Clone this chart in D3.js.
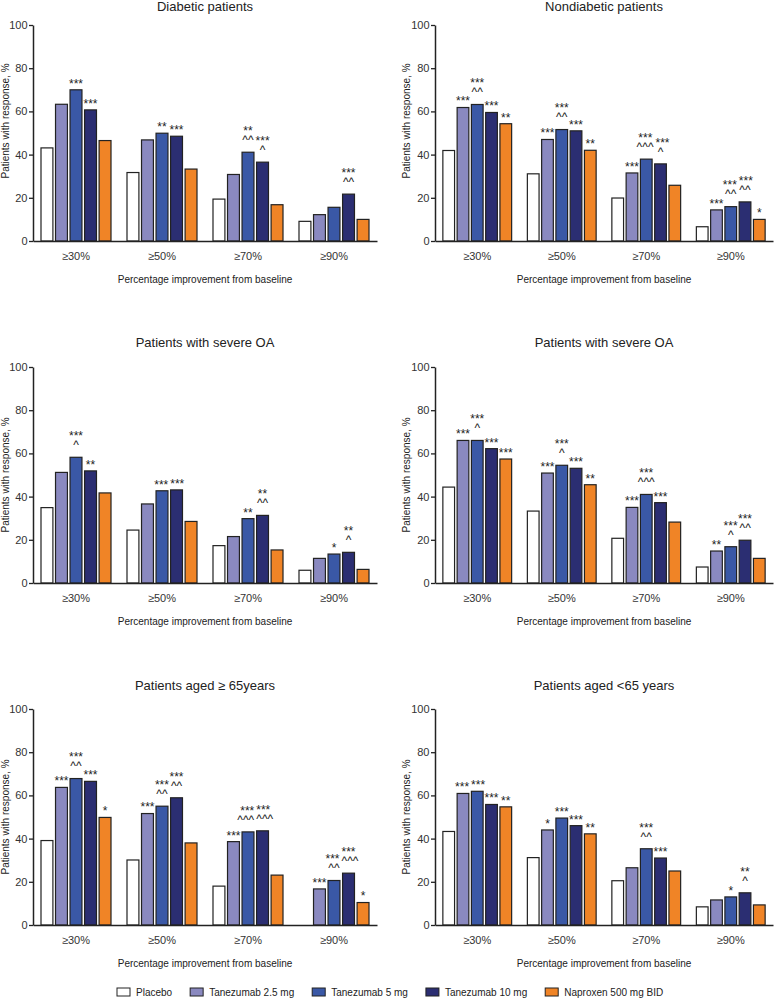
<!DOCTYPE html>
<html>
<head>
<meta charset="utf-8">
<script src="https://cdn.jsdelivr.net/npm/d3@7"></script>
<style>
  html, body { margin: 0; padding: 0; background: #fff; }
  svg { display: block; font-family: "Liberation Sans", Arial, sans-serif; }
</style>
</head>
<body>
<svg id="chart" width="781" height="999"></svg>
<script>
// ---------- DATA ----------
const categories = ["≥30%", "≥50%", "≥70%", "≥90%"];
const seriesNames = ["Placebo", "Tanezumab 2.5 mg", "Tanezumab 5 mg", "Tanezumab 10 mg", "Naproxen 500 mg BID"];
const yTicks = [0, 20, 40, 60, 80, 100];
const panelTitles = ["Diabetic patients", "Nondiabetic patients", "Patients with severe OA",
                     "Patients with severe OA", "Patients aged ≥ 65years", "Patients aged <65 years"];
const xAxisTitle = "Percentage improvement from baseline";
const yAxisTitle = "Patients with response, %";

// values per category: [Placebo, T2.5, T5, T10, Naproxen]
const diabeticValues = [
  [43.1, 63.3, 70.0, 60.7, 46.5],
  [31.7, 46.8, 49.9, 48.5, 33.3],
  [19.4, 30.8, 41.1, 36.5, 16.8],
  [9.1, 12.2, 15.6, 21.7, 10.0]
];
const nondiabeticValues = [
  [41.9, 61.8, 63.2, 59.5, 54.3],
  [31.1, 47.0, 51.6, 51.0, 42.0],
  [19.9, 31.5, 37.9, 35.7, 25.8],
  [6.6, 14.4, 15.9, 18.1, 10.0]
];
const severeOaLeftValues = [
  [34.9, 51.2, 58.2, 51.9, 41.7],
  [24.5, 36.6, 42.7, 43.1, 28.5],
  [17.3, 21.5, 29.8, 31.3, 15.3],
  [5.9, 11.4, 13.4, 14.2, 6.3]
];
const severeOaRightValues = [
  [44.4, 66.0, 66.0, 62.2, 57.4],
  [33.3, 50.9, 54.5, 53.1, 45.5],
  [20.7, 35.0, 41.0, 37.2, 28.2],
  [7.4, 14.8, 16.8, 19.8, 11.4]
];
const aged65PlusValues = [
  [39.1, 63.7, 67.8, 66.5, 49.8],
  [30.1, 51.6, 55.0, 58.9, 38.0],
  [18.0, 38.6, 43.1, 43.6, 23.1],
  [null, 16.7, 20.6, 24.0, 10.4]
];
const agedUnder65Values = [
  [43.3, 60.9, 61.9, 55.8, 54.7],
  [31.2, 44.0, 49.5, 46.0, 42.2],
  [20.5, 26.5, 35.3, 31.0, 25.0],
  [8.4, 11.6, 13.0, 14.9, 9.3]
];

// significance marks per bar ("\n" separates stacked lines, top first)
const diabeticMarks = [
  ["", "", "***", "***", ""],
  ["", "", "**", "***", ""],
  ["", "", "**\n^^", "***\n^", ""],
  ["", "", "", "***\n^^", ""]
];
const nondiabeticMarks = [
  ["", "***", "***\n^^", "***", "**"],
  ["", "***", "***\n^^", "***", "**"],
  ["", "***", "***\n^^^", "***\n^", ""],
  ["", "***", "***\n^^", "***\n^^", "*"]
];
const severeOaLeftMarks = [
  ["", "", "***\n^", "**", ""],
  ["", "", "***", "***", ""],
  ["", "", "**", "**\n^^", ""],
  ["", "", "*", "**\n^", ""]
];
const severeOaRightMarks = [
  ["", "***", "***\n^", "***", "***"],
  ["", "***", "***\n^", "***", "**"],
  ["", "***", "***\n^^^", "***", ""],
  ["", "**", "***\n^", "***\n^^", ""]
];
const aged65PlusMarks = [
  ["", "***", "***\n^^", "***", "*"],
  ["", "***", "***\n^^", "***\n^^", ""],
  ["", "***", "***\n^^^", "***\n^^^", ""],
  ["", "***", "***\n^^", "***\n^^^", "*"]
];
const agedUnder65Marks = [
  ["", "***", "***", "***", "**"],
  ["", "*", "***", "***", "**"],
  ["", "", "***\n^^", "***", ""],
  ["", "", "*", "**\n^", ""]
];

const panelValues = [diabeticValues, nondiabeticValues, severeOaLeftValues, severeOaRightValues, aged65PlusValues, agedUnder65Values];
const panelMarks = [diabeticMarks, nondiabeticMarks, severeOaLeftMarks, severeOaRightMarks, aged65PlusMarks, agedUnder65Marks];

// ---------- STYLE / LAYOUT ----------
const seriesColors = ["#ffffff", "#8a89c0", "#3a58a6", "#2b2e72", "#f08426"];
const barStroke = "#222";
const textColor = "#222";
const colExtents = [[33, 377], [435, 773]];
const rows = [
  { y0: 241, y100: 25, titleY: 11, yTitleC: 121 },
  { y0: 583, y100: 367, titleY: 347, yTitleC: 475 },
  { y0: 925, y100: 709, titleY: 690, yTitleC: 817 }
];
const yTitleX = [9, 410];

const svg = d3.select("#chart");

panelTitles.forEach((title, i) => {
  const col = i % 2, row = rows[Math.floor(i / 2)];
  const [xa, xb] = colExtents[col];
  const values = panelValues[i], marks = panelMarks[i];

  const x = d3.scaleBand().domain(categories).range([xa, xb]).paddingInner(0.186).paddingOuter(0.093);
  const xs = d3.scaleBand().domain(d3.range(seriesNames.length)).range([0, x.bandwidth()]).paddingInner(0.18);
  const y = d3.scaleLinear().domain([0, 100]).range([row.y0, row.y100]);

  const g = svg.append("g");

  // title
  g.append("text").attr("x", (xa + xb) / 2).attr("y", row.titleY)
    .attr("text-anchor", "middle").attr("font-size", 13).attr("fill", textColor).text(title);

  // bars
  const groups = g.selectAll("g.grp").data(categories).join("g")
    .attr("transform", c => `translate(${x(c)},0)`);
  groups.each(function (c, ci) {
    const gg = d3.select(this);
    const items = values[ci].map((v, si) => ({ v, si, m: marks[ci][si] }));
    gg.selectAll("rect").data(items.filter(d => d.v != null)).join("rect")
      .attr("x", d => xs(d.si)).attr("width", xs.bandwidth())
      .attr("y", d => y(d.v)).attr("height", d => y(0) - y(d.v))
      .attr("fill", d => seriesColors[d.si]).attr("stroke", barStroke).attr("stroke-width", 1.2);

    const labels = [];
    items.filter(d => d.m && d.v != null).forEach(d => {
      const lines = d.m.split("\n").reverse(); // bottom first
      const top = y(d.v);
      const cxBar = xs(d.si) + xs.bandwidth() / 2;
      const txt = gg.append("text").attr("text-anchor", "middle")
        .attr("font-size", 12).attr("fill", textColor);
      const spans = [];
      let cy = null;
      lines.forEach((ln, li) => {
        const caret = ln.startsWith("^");
        if (li === 0) cy = top - (caret ? 14.5 : 9);
        else cy -= 9.6;
        spans.unshift({ ln, cy, base: cy + (caret ? 6.3 : 6.9) });
      });
      spans.forEach(s => {
        const ts = txt.append("tspan").attr("x", cxBar).attr("y", s.base).text(s.ln);
        labels.push({ t: ts, x: cxBar, cy: s.cy, w: ts.node().getComputedTextLength() });
      });
    });
    // push apart horizontally adjacent labels on the same level
    for (let it = 0; it < 6; it++) {
      labels.sort((a, b) => a.x - b.x);
      for (let a = 0; a < labels.length; a++) {
        for (let b = a + 1; b < labels.length; b++) {
          const A = labels[a], B = labels[b];
          if (Math.abs(A.cy - B.cy) > 6) continue;
          const overlap = (A.x + A.w / 2 + 2) - (B.x - B.w / 2);
          if (overlap > 0) { A.x -= overlap / 2; B.x += overlap / 2; }
        }
      }
    }
    labels.forEach(l => l.t.attr("x", l.x));
  });

  // y axis
  const yAxis = g.append("g").attr("transform", `translate(${xa},0)`)
    .call(d3.axisLeft(y).tickValues(yTicks).tickSize(4).tickSizeOuter(0).tickPadding(1.5));
  yAxis.select(".domain").attr("stroke", "#222").attr("stroke-width", 1.5);
  yAxis.selectAll(".tick line").attr("stroke", "#222").attr("stroke-width", 1.3);
  yAxis.selectAll(".tick text").attr("font-size", 11).attr("fill", "#333")
    .attr("font-family", "Liberation Sans, Arial, sans-serif");

  // x axis
  const xAxis = g.append("g").attr("transform", `translate(0,${row.y0})`)
    .call(d3.axisBottom(x).tickSize(0).tickSizeOuter(0).tickPadding(10.7));
  xAxis.select(".domain").attr("stroke", "#222").attr("stroke-width", 1.5);
  xAxis.selectAll(".tick text").attr("font-size", 11).attr("fill", "#333")
    .attr("font-family", "Liberation Sans, Arial, sans-serif");

  // axis titles
  g.append("text").attr("x", (xa + xb) / 2).attr("y", row.y0 + 41.5)
    .attr("text-anchor", "middle").attr("font-size", 10).attr("fill", textColor).text(xAxisTitle);
  g.append("text").attr("transform", `translate(${yTitleX[col]},${row.yTitleC}) rotate(-90)`)
    .attr("text-anchor", "middle").attr("font-size", 10).attr("fill", textColor).text(yAxisTitle);
});

// legend
const legend = svg.append("g");
let lx = 117;
seriesNames.forEach((name, si) => {
  legend.append("rect").attr("x", lx).attr("y", 988).attr("width", 13).attr("height", 8)
    .attr("fill", seriesColors[si]).attr("stroke", barStroke).attr("stroke-width", 1);
  const t = legend.append("text").attr("x", lx + 19).attr("y", 996)
    .attr("font-size", 10).attr("fill", textColor).text(name);
  lx += 19 + t.node().getComputedTextLength() + 18;
});
</script>
</body>
</html>
